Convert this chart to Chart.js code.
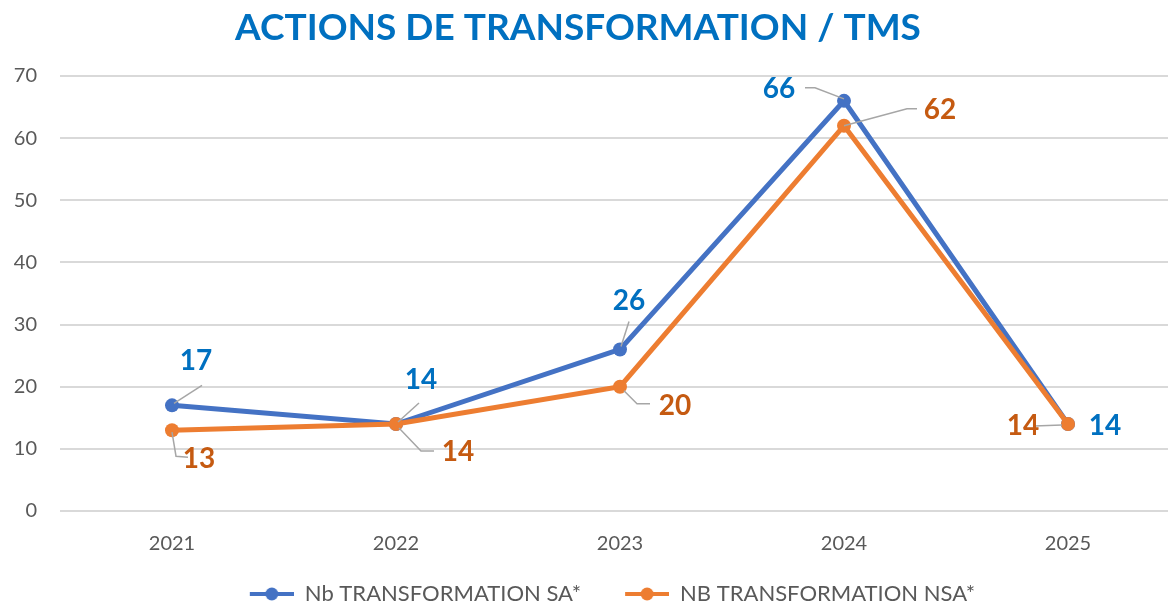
<!DOCTYPE html>
<html>
<head>
<meta charset="utf-8">
<script src="https://cdn.jsdelivr.net/npm/chart.js@4.4.0/dist/chart.umd.min.js"></script>
<style>
    html, body { margin: 0; padding: 0; background: #fff; overflow: hidden; }
    #wrap { width: 1168px; height: 605px; overflow: hidden; }
    #box { width: 1187px; height: 615px; }
</style>
</head>
<body>
<div id="wrap"><div id="box"><canvas id="tmsChart"></canvas></div></div>
<script>
// Chart data
const chartTitle = 'ACTIONS DE TRANSFORMATION / TMS';
const years = ['2021', '2022', '2023', '2024', '2025'];
const nbSA = [17, 14, 26, 66, 14];
const nbNSA = [13, 14, 20, 62, 14];
const yTicks = [0, 10, 20, 30, 40, 50, 60, 70];

const BLUE = '#4472C4';
const ORANGE = '#ED7D31';
const GREY_TEXT = '#595959';
const FONT = 'Lato, "Open Sans", sans-serif';

// Label placement (pixel offsets from the point): text position + leader line
const labelSA = [
    { tx: 24, ty: -44, lead: [[2, -2], [30, -20]] },
    { tx: 25, ty: -44, lead: [[2, -2], [23, -21]] },
    { tx: 9, ty: -48, lead: [[1, -3], [9, -28]] },
    { tx: -65, ty: -12, lead: [[0, -2], [-29, -13], [-39, -13]] },
    { tx: 37, ty: 2, lead: null }
];
const labelNSA = [
    { tx: 27, ty: 29, lead: [[0, 2], [4, 26], [16, 27]] },
    { tx: 62, ty: 28, lead: [[3, 4], [25, 27], [38, 27]] },
    { tx: 55, ty: 19, lead: [[4, 4], [17, 17], [30, 17]] },
    { tx: 96, ty: -16, lead: [[0, 0], [63, -17], [73, -17]] },
    { tx: -45, ty: 2, lead: [[-6, 1], [-34, 2]] }
];

// Legend marker: blank gap on the left, then a line with a dot
const LEGEND_PAD = 6;
const MARK_W = 44 + (44 - LEGEND_PAD);
function legendMarker(color) {
    const c = document.createElement('canvas');
    c.width = MARK_W;
    c.height = 14;
    const ctx = c.getContext('2d');
    const x0 = MARK_W - 44;
    ctx.strokeStyle = color;
    ctx.lineWidth = 4;
    ctx.beginPath();
    ctx.moveTo(x0, 7);
    ctx.lineTo(x0 + 44, 7);
    ctx.stroke();
    ctx.fillStyle = color;
    ctx.beginPath();
    ctx.arc(x0 + 22, 7, 6.5, 0, Math.PI * 2);
    ctx.fill();
    return c;
}
const legendMarks = [legendMarker(BLUE), legendMarker(ORANGE)];

// Title drawn centred on the visible window (the canvas is a bit wider)
const windowTitle = {
    id: 'windowTitle',
    afterDraw(chart) {
        const ctx = chart.ctx;
        ctx.save();
        ctx.fillStyle = '#0070C0';
        ctx.font = 'bold 37px ' + FONT;
        ctx.textAlign = 'center';
        ctx.textBaseline = 'middle';
        ctx.fillText(chartTitle, 578, 28);
        ctx.restore();
    }
};

// Data labels with leader lines
const leaderLabels = {
    id: 'leaderLabels',
    afterDatasetsDraw(chart) {
        const ctx = chart.ctx;
        const setups = [
            { idx: 0, places: labelSA, color: '#0070C0' },
            { idx: 1, places: labelNSA, color: '#C55A11' }
        ];
        setups.forEach(s => {
            const meta = chart.getDatasetMeta(s.idx);
            const values = chart.data.datasets[s.idx].data;
            meta.data.forEach((pt, i) => {
                const p = s.places[i];
                if (p.lead) {
                    ctx.save();
                    ctx.strokeStyle = '#A6A6A6';
                    ctx.lineWidth = 1.5;
                    ctx.beginPath();
                    p.lead.forEach((q, k) => {
                        if (k === 0) ctx.moveTo(pt.x + q[0], pt.y + q[1]);
                        else ctx.lineTo(pt.x + q[0], pt.y + q[1]);
                    });
                    ctx.stroke();
                    ctx.restore();
                }
                ctx.save();
                ctx.fillStyle = s.color;
                ctx.font = 'bold 28px ' + FONT;
                ctx.textAlign = 'center';
                ctx.textBaseline = 'middle';
                ctx.fillText(String(values[i]), pt.x + p.tx, pt.y + p.ty);
                ctx.restore();
            });
        });
    }
};

const ctx = document.getElementById('tmsChart').getContext('2d');
const tmsChart = new Chart(ctx, {
    type: 'line',
    data: {
        labels: years,
        datasets: [{
            label: 'Nb TRANSFORMATION SA*',
            data: nbSA,
            borderColor: BLUE,
            backgroundColor: BLUE,
            borderWidth: 5,
            pointStyle: 'circle',
            pointRadius: 7,
            pointBackgroundColor: BLUE,
            pointBorderWidth: 0,
            order: 1
        }, {
            label: 'NB TRANSFORMATION NSA*',
            data: nbNSA,
            borderColor: ORANGE,
            backgroundColor: ORANGE,
            borderWidth: 5,
            pointStyle: 'circle',
            pointRadius: 7,
            pointBackgroundColor: ORANGE,
            pointBorderWidth: 0,
            order: 0
        }]
    },
    options: {
        responsive: true,
        maintainAspectRatio: false,
        animation: false,
        layout: { padding: { top: 76, left: 0, right: 0, bottom: 0 } },
        scales: {
            x: {
                offset: true,
                grid: { display: false, drawTicks: false },
                border: { display: false },
                ticks: {
                    color: GREY_TEXT,
                    font: { family: FONT, size: 20 },
                    padding: 21
                }
            },
            y: {
                min: 0,
                max: 70,
                afterFit: scale => { scale.width = 60; },
                afterBuildTicks: scale => { scale.ticks = yTicks.map(v => ({ value: v })); },
                border: { display: false },
                grid: { color: '#D9D9D9', lineWidth: 2, drawTicks: false },
                ticks: {
                    color: GREY_TEXT,
                    font: { family: FONT, size: 20 },
                    padding: 23
                }
            }
        },
        plugins: {
            title: { display: false },
            legend: {
                position: 'bottom',
                labels: {
                    usePointStyle: true,
                    pointStyleWidth: MARK_W,
                    color: GREY_TEXT,
                    font: { family: FONT, size: 22 },
                    padding: LEGEND_PAD,
                    generateLabels: chart => chart.data.datasets.map((ds, i) => ({
                        text: ds.label,
                        fillStyle: ds.borderColor,
                        strokeStyle: ds.borderColor,
                        lineWidth: 0,
                        pointStyle: legendMarks[i],
                        fontColor: GREY_TEXT,
                        hidden: false,
                        datasetIndex: i
                    }))
                }
            },
            tooltip: { enabled: false }
        }
    },
    plugins: [leaderLabels, windowTitle]
});
</script>
</body>
</html>
